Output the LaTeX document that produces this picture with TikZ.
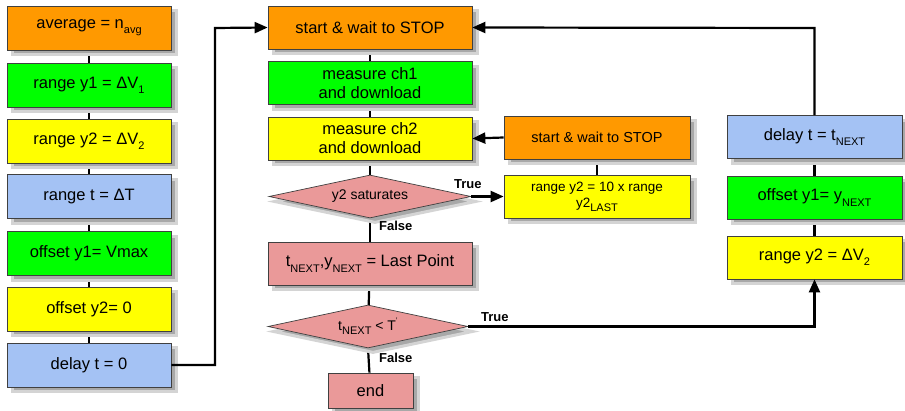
\documentclass[tikz,border=0pt]{standalone}
\usepackage{fontspec}
\setmainfont{Liberation Sans}
\usetikzlibrary{shapes.geometric,arrows.meta,backgrounds}
\definecolor{cOrange}{HTML}{FF9900}
\definecolor{cGreen}{HTML}{00FF00}
\definecolor{cYellow}{HTML}{FFFF00}
\definecolor{cBlue}{HTML}{A4C2F4}
\definecolor{cPink}{HTML}{EA9999}
\definecolor{cBorder}{HTML}{404040}
\definecolor{shA}{HTML}{D4D4D4}
\definecolor{shB}{HTML}{A8A8A8}
\newcommand\lowidx[1]{\raisebox{-0.6ex}{\fontsize{11}{11}\selectfont #1}}
\tikzset{
  boxbase/.style={draw=cBorder, line width=0.7pt, inner sep=0pt, align=center,
    font=\fontsize{16.5}{19}\selectfont},
  shad/.style={draw=shA, fill=shB, line width=3pt},
  lbox/.style={boxbase, rectangle, minimum width=164pt, minimum height=44pt},
  mbox/.style={boxbase, rectangle, minimum width=204pt, minimum height=43pt},
  smbox/.style={boxbase, rectangle, minimum width=186pt, minimum height=43pt, font=\fontsize{14.5}{17}\selectfont},
  rbox/.style={boxbase, rectangle, minimum width=175pt, minimum height=43pt},
  endbox/.style={boxbase, rectangle, minimum width=85pt, minimum height=35pt},
  decide/.style={boxbase, diamond, aspect=4.7, minimum width=202pt, minimum height=43pt, fill=cPink, font=\fontsize{14}{16}\selectfont},
  conn/.style={line width=2.2pt, black},
  arr/.style={conn, -{Triangle[length=13pt,width=11pt]}},
  lbl/.style={font=\bfseries\fontsize{13}{15}\selectfont, inner sep=1pt}
}
\begin{document}
\begin{tikzpicture}[x=1pt,y=-1pt]
\useasboundingbox (0,0) rectangle (905,411);
% shadows
\node[lbox, shad] (avgS) at (94,33) {};
\node[lbox, shad] (ry1S) at (94,90) {};
\node[lbox, shad] (ry2S) at (94,146) {};
\node[lbox, shad] (rtS) at (94,201.5) {};
\node[lbox, shad] (oy1S) at (94,258.5) {};
\node[lbox, shad] (oy2S) at (94,314) {};
\node[lbox, shad] (d0S) at (94,370) {};
\node[mbox, shad] (startS) at (375,32.5) {};
\node[mbox, shad] (ch1S) at (375,88) {};
\node[mbox, shad] (ch2S) at (375,143.5) {};
\node[decide, shad] (satS) at (375,201.5) {};
\node[mbox, shad] (lastS) at (375,268.5) {};
\node[decide, shad, minimum width=200pt] (cmpS) at (373,331.5) {};
\node[endbox, shad] (endS) at (375.5,395.5) {};
\node[smbox, shad] (start2S) at (602,142.5) {};
\node[smbox, shad] (r10S) at (602,201.5) {};
\node[rbox, shad] (dnS) at (819.5,142) {};
\node[rbox, shad] (oynS) at (819.5,202.5) {};
\node[rbox, shad] (rv2S) at (819.5,262.5) {};
% left column
\node[lbox, fill=cOrange] (avg) at (89,28) {average = n\lowidx{avg}};
\node[lbox, fill=cGreen] (ry1) at (89,85) {range y1 = ΔV\lowidx{1}};
\node[lbox, fill=cYellow] (ry2) at (89,141) {range y2 = ΔV\lowidx{2}};
\node[lbox, fill=cBlue] (rt) at (89,196.5) {range t = ΔT};
\node[lbox, fill=cGreen] (oy1) at (89,253.5) {offset y1= Vmax};
\node[lbox, fill=cYellow] (oy2) at (89,309) {offset y2= 0};
\node[lbox, fill=cBlue] (d0) at (89,365) {delay t = 0};
% middle column
\node[mbox, fill=cOrange] (start) at (370,27.5) {start \& wait to STOP};
\node[mbox, fill=cGreen, align=center] (ch1) at (370,83) {measure ch1\\and download};
\node[mbox, fill=cYellow, align=center] (ch2) at (370,138.5) {measure ch2\\and download};
\node[decide] (sat) at (370,196.5) {y2 saturates};
\node[mbox, fill=cPink] (last) at (370,263.5) {t\lowidx{NEXT},y\lowidx{NEXT} = Last Point};
\node[decide, minimum width=200pt] (cmp) at (368,326.5) {t\lowidx{NEXT} < T\raisebox{0.9ex}{\fontsize{8}{8}\selectfont '}};
\node[endbox, fill=cPink] (end) at (370.5,390.5) {end};
% right-middle
\node[smbox, fill=cOrange] (start2) at (597,137.5) {start \& wait to STOP};
\node[smbox, fill=cYellow, align=center, font=\fontsize{13.5}{16}\selectfont] (r10) at (597,196.5) {range y2 = 10 x range\\y2\lowidx{LAST}};
% right column
\node[rbox, fill=cBlue] (dn) at (814.5,137) {delay t = t\lowidx{NEXT}};
\node[rbox, fill=cGreen] (oyn) at (814.5,197.5) {offset y1= y\lowidx{NEXT}};
\node[rbox, fill=cYellow] (rv2) at (814.5,257.5) {range y2 = ΔV\lowidx{2}};
% coordinates
\coordinate (c1) at (215,365);
\coordinate (c2) at (215,28);
\coordinate (c3) at (814.5,326.5);
\coordinate (c4) at (814.5,28);
\begin{scope}[on background layer]
\draw[conn] (avg) -- (ry1);
\draw[conn] (ry1) -- (ry2);
\draw[conn] (ry2) -- (rt);
\draw[conn] (rt) -- (oy1);
\draw[conn] (oy1) -- (oy2);
\draw[conn] (oy2) -- (d0);
\draw[conn] (start) -- (ch1);
\draw[conn] (ch1) -- (ch2);
\draw[conn] (ch2) -- (sat);
\draw[conn] (sat) -- (last);
\draw[conn] (last) -- (cmp);
\draw[conn] (cmp.south) -- (end);
\draw[conn] (start2) -- (r10);
\draw[conn] (dn) -- (oyn);
\draw[conn] (oyn) -- (rv2);
\end{scope}
\draw[arr] (d0.east) -- (c1) -- (c2) -- (start.west);
\draw[arr] (start2.west) -- (ch2.east);
\draw[arr] (sat.east) -- (r10.west);
\draw[arr] (cmp.east) -- (c3) -- (rv2.south);
\draw[arr] (dn.north) -- (c4) -- (start.east);
% labels
\node[lbl, anchor=south west] (t1) at (453,190) {True};
\node[lbl, anchor=south west] (t2) at (480,323) {True};
\node[lbl, anchor=north west] (f1) at (378,220) {False};
\node[lbl, anchor=north west] (f2) at (378,352) {False};
\end{tikzpicture}
\end{document}
